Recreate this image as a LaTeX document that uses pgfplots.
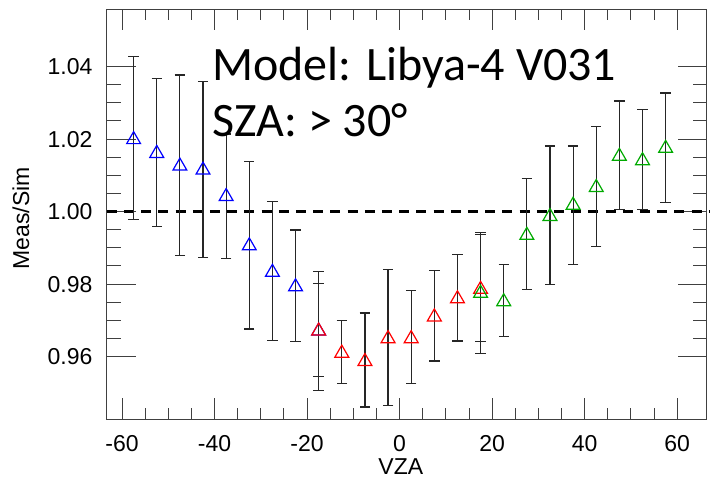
\documentclass[border=0pt]{standalone}
\usepackage{fontspec}
\setmainfont{Liberation Sans}
\newfontfamily\carlito{Carlito}
\usepackage{pgfplots}
\pgfplotsset{compat=1.18}
\usepackage{pgfplotstable}

\pgfplotstableread{
x y hi lo
-57.5 1.0204 1.0427 0.9978
-52.5 1.0166 1.0367 0.9958
-47.5 1.0131 1.0377 0.9879
-42.5 1.0120 1.0358 0.9874
-37.5 1.0047 1.0214 0.9870
-32.5 0.9911 1.0139 0.9676
-27.5 0.9838 1.0027 0.9644
-22.5 0.9798 0.9949 0.9641
-17.5 0.9676 0.9801 0.9545
}\blue

\pgfplotstableread{
x y hi lo
-17.5 0.9676 0.9834 0.9506
-12.5 0.9615 0.9700 0.9526
-7.5 0.9592 0.9720 0.9461
-2.5 0.9655 0.9841 0.9464
2.5 0.9655 0.9783 0.9526
7.5 0.9715 0.9838 0.9588
12.5 0.9765 0.9882 0.9643
17.5 0.9791 0.9936 0.9641
}\red

\pgfplotstableread{
x y hi lo
17.5 0.9780 0.9943 0.9609
22.5 0.9757 0.9853 0.9655
27.5 0.9940 1.0092 0.9785
32.5 0.9992 1.0181 0.9798
37.5 1.0023 1.0181 0.9854
42.5 1.0072 1.0234 0.9904
47.5 1.0158 1.0305 1.0005
52.5 1.0146 1.0282 1.0005
57.5 1.0180 1.0327 1.0026
}\green

\definecolor{idlgreen}{RGB}{0,170,0}

\begin{document}
\begin{tikzpicture}
\begin{axis}[
  name=ax,
  scale only axis,
  width=300pt, height=205pt,
  xmin=-63.3, xmax=66.4,
  ymin=0.9427, ymax=1.0558,
  xtick={-60,-40,...,60},
  ytick={0.96,0.98,1.00,1.02,1.04},
  minor x tick num=3,
  minor y tick num=3,
  tick align=inside,
  tick pos=both,
  major tick length=14.5pt,
  minor tick length=7pt,
  xtick style={/pgfplots/major tick length=10.5pt,/pgfplots/minor tick length=5.5pt},
  tick style={black!75, line width=0.5pt},
  axis line style={black!75, line width=0.6pt},
  /pgf/number format/assume math mode=true,
  /pgf/number format/.cd, fixed, fixed zerofill, precision=2, /pgfplots/.cd,
  xticklabel style={/pgf/number format/precision=0, /pgf/number format/fixed zerofill=false, inner sep=0pt, yshift=-8pt, font=\fontsize{11.5}{13}\selectfont},
  yticklabel style={inner sep=0pt, xshift=-7pt, font=\fontsize{11.5}{13}\selectfont},
  xlabel={VZA},
  ylabel={Meas/Sim},
  every axis x label/.style={at={(axis description cs:0.49,-0.116)}, anchor=center, font=\fontsize{11.5}{13}\selectfont},
  every axis y label/.style={at={(axis description cs:-0.143,0.49)}, rotate=90, anchor=center, font=\fontsize{11.5}{13}\selectfont},
  clip=false,
]
\addplot[black, line width=1.8pt, dash pattern=on 5pt off 3.6pt, forget plot] coordinates {(-63.3,1.0) (67.3,1.0)};

\pgfplotsset{
  ebars/.style={
    only marks, mark=triangle, mark size=4pt,
    mark options={solid, line width=0.6pt, yshift=-1pt},
    error bars/.cd, y dir=both, y explicit,
    error bar style={black!85, line width=0.6pt},
    error mark options={rotate=90, mark size=2.6pt, black!85, line width=0.6pt},
  }
}
\addplot[blue, ebars] table[x=x, y=y, y error plus expr=\thisrow{hi}-\thisrow{y}, y error minus expr=\thisrow{y}-\thisrow{lo}] {\blue};
\addplot[red, ebars] table[x=x, y=y, y error plus expr=\thisrow{hi}-\thisrow{y}, y error minus expr=\thisrow{y}-\thisrow{lo}] {\red};
\addplot[idlgreen, ebars] table[x=x, y=y, y error plus expr=\thisrow{hi}-\thisrow{y}, y error minus expr=\thisrow{y}-\thisrow{lo}] {\green};

\node[anchor=base west, inner sep=0pt, font=\carlito\fontsize{24}{28}\selectfont] at (axis description cs:0.1753,0.8268) {Model: Libya-4 V031};
\node[anchor=base west, inner sep=0pt, font=\carlito\fontsize{24}{28}\selectfont] at (axis description cs:0.1753,0.690) {SZA: > 30°};
\end{axis}
\pgfresetboundingbox
\path ([shift={(-53.4pt,-32.5pt)}]ax.south west) rectangle ([shift={(1.6pt,4.65pt)}]ax.north east);
\end{tikzpicture}
\end{document}
